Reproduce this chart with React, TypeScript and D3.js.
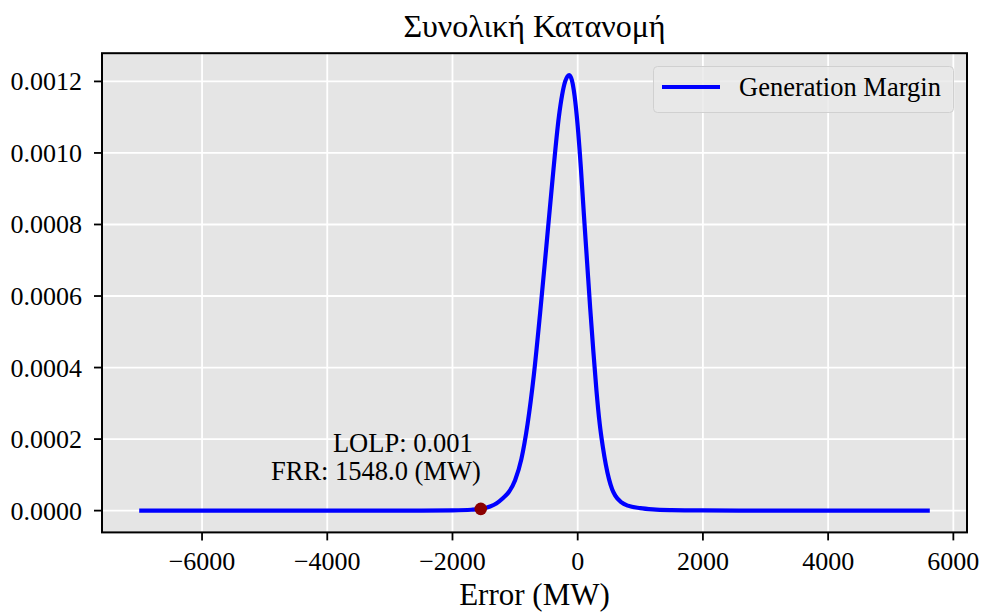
import React from "react";
import * as d3 from "d3";

// Generation margin probability density (error in MW vs density)
const errorMW = [
  -6970, -3000, -2500, -2000, -1700, -1548, -1400, -1300, -1200, -1100, -1000, -900,
  -800, -700, -600, -500, -400, -300, -200, -135, -50, 0, 50, 100, 150, 200, 250, 300,
  350, 400, 450, 500, 550, 600, 700, 800, 1000, 1200, 1500, 2000, 3000, 5590,
];
const density = [
  0, 0, 0.0000001, 0.0000008, 0.0000025, 0.000005, 0.0000115, 0.00002, 0.000034, 0.000052,
  0.000085, 0.000144, 0.000243, 0.00038, 0.000553, 0.00074, 0.00093, 0.001102, 0.0012,
  0.001218, 0.00116, 0.001075, 0.00096, 0.000825, 0.000695, 0.000565, 0.000445, 0.000335,
  0.000245, 0.00018, 0.000128, 0.000088, 0.00006, 0.000042, 0.000023, 0.000014, 0.000007,
  0.0000035, 0.0000015, 0.0000005, 0, 0,
];

const frrMW = -1548;
const frrDensity = 0.000005;
const lolp = 0.001;

const xTicks = [-6000, -4000, -2000, 0, 2000, 4000, 6000];
const yTicks = [0, 0.0002, 0.0004, 0.0006, 0.0008, 0.001, 0.0012];

const titleText = "Συνολική Κατανομή";
const xLabel = "Error (MW)";
const seriesName = "Generation Margin";

const W = 984;
const H = 613;
const FONT = "'Liberation Serif', 'Times New Roman', serif";

export default function App() {
  const left = 102, right = 967, top = 53.2, bottom = 532.4;
  const x = d3.scaleLinear().domain([-7598, 6218]).range([left, right]);
  const y = d3.scaleLinear().domain([-0.0000609, 0.0012789]).range([bottom, top]);

  const pts: [number, number][] = errorMW.map((v, i) => [v, density[i]]);
  const line = d3
    .line<[number, number]>()
    .x((d) => x(d[0]))
    .y((d) => y(d[1]))
    .curve(d3.curveMonotoneX);

  const fmtX = (v: number) => (v < 0 ? "\u2212" + Math.abs(v) : String(v));
  const fmtY = (v: number) => v.toFixed(4);

  const dotX = x(frrMW);
  const dotY = y(frrDensity);

  return (
    <svg
      width={W}
      height={H}
      style={{ position: "absolute", left: 0, top: 0, background: "#fff" }}
      fontFamily={FONT}
    >
      <text x={(left + right) / 2} y={37} textAnchor="middle" fontSize={32} fill="#000">
        {titleText}
      </text>

      <rect x={left} y={top} width={right - left} height={bottom - top} fill="#e5e5e5" />

      {xTicks.map((t) => (
        <line key={"gx" + t} x1={x(t)} x2={x(t)} y1={top} y2={bottom} stroke="#fff" strokeWidth={1.8} />
      ))}
      {yTicks.map((t) => (
        <line key={"gy" + t} x1={left} x2={right} y1={y(t)} y2={y(t)} stroke="#fff" strokeWidth={1.8} />
      ))}

      <path
        d={line(pts) || ""}
        fill="none"
        stroke="#0000ff"
        strokeWidth={4.2}
        strokeLinecap="square"
        strokeLinejoin="round"
      />

      <circle cx={dotX} cy={dotY} r={6.3} fill="#8b0000" />

      <text x={dotX - 8} y={452} textAnchor="end" fontSize={26.5} fill="#000">
        {`LOLP: ${lolp}`}
      </text>
      <text x={dotX} y={480} textAnchor="end" fontSize={26.5} fill="#000">
        {`FRR: ${Math.abs(frrMW).toFixed(1)} (MW)`}
      </text>

      <rect x={left} y={top} width={right - left} height={bottom - top} fill="none" stroke="#000" strokeWidth={2} />

      {xTicks.map((t) => (
        <g key={"tx" + t}>
          <line x1={x(t)} x2={x(t)} y1={bottom} y2={bottom + 8} stroke="#000" strokeWidth={1.8} />
          <text x={x(t)} y={569.5} textAnchor="middle" fontSize={26} fill="#000">
            {fmtX(t)}
          </text>
        </g>
      ))}
      {yTicks.map((t) => (
        <g key={"ty" + t}>
          <line x1={left - 8} x2={left} y1={y(t)} y2={y(t)} stroke="#000" strokeWidth={1.8} />
          <text x={82} y={y(t) + 9} textAnchor="end" fontSize={26} fill="#000">
            {fmtY(t)}
          </text>
        </g>
      ))}

      <text x={(left + right) / 2} y={605} textAnchor="middle" fontSize={31} fill="#000">
        {xLabel}
      </text>

      <g>
        <rect x={653.5} y={66.5} width={300} height={46} rx={4} fill="#e8e8e8" fillOpacity={0.8} stroke="#d0d0d0" strokeWidth={1} />
        <line x1={662} x2={720} y1={87} y2={87} stroke="#0000ff" strokeWidth={4.2} />
        <text x={739} y={96} fontSize={26.5} fill="#000">
          {seriesName}
        </text>
      </g>
    </svg>
  );
}
